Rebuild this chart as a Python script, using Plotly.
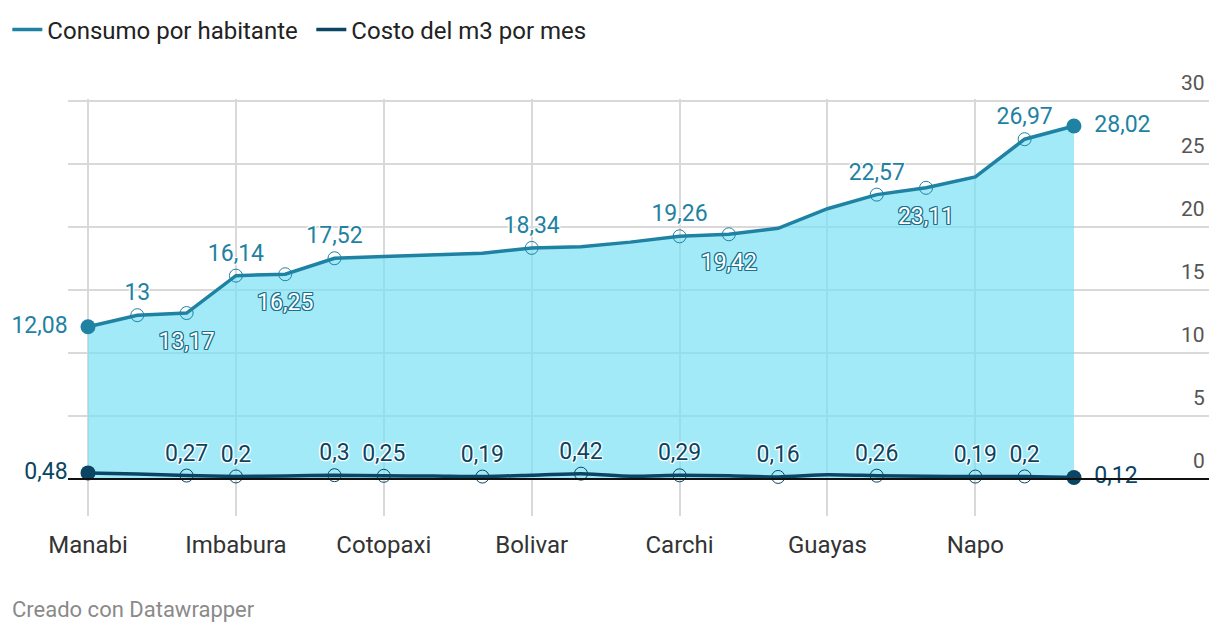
import plotly.graph_objects as go

# ---------------- data ----------------
provincias = ["Manabi", "Esmeraldas", "Los Ríos", "Imbabura", "Chimborazo", "Tungurahua",
              "Cotopaxi", "Cañar", "Loja", "Bolivar", "Azuay", "El Oro",
              "Carchi", "Santa Elena", "Morona Santiago", "Guayas", "Pichincha", "Pastaza",
              "Napo", "Orellana", "Galápagos"]
consumo = [12.08, 13, 13.17, 16.14, 16.25, 17.52, 17.66, 17.79, 17.92, 18.34, 18.44, 18.80,
           19.26, 19.42, 19.90, 21.45, 22.57, 23.11, 23.98, 26.97, 28.02]
costo = [0.48, 0.40, 0.27, 0.20, 0.24, 0.30, 0.25, 0.24, 0.19, 0.30, 0.42, 0.22,
         0.29, 0.25, 0.16, 0.33, 0.26, 0.22, 0.19, 0.20, 0.12]
y_ticks = [0, 5, 10, 15, 20, 25, 30]

# which points carry value labels (and where)
consumo_top = [1, 3, 5, 9, 12, 16, 19]
consumo_bottom = [2, 4, 13, 17]
costo_top = [2, 3, 5, 6, 8, 10, 12, 14, 16, 18, 19]
ends = [0, len(provincias) - 1]

# ---------------- style ----------------
BLUE = "#1f82a3"
NAVY = "#0b4563"
FILL = "rgba(118,224,243,0.68)"
GRID = "#d9d9d9"
FONT = "Roboto"
LBL = 23
CLEAR = "rgba(0,0,0,0)"


def fmt(v):
    return f"{v:g}".replace(".", ",")


def halo(c, r=1, blur=1):
    offs = [(-r, -r), (r, -r), (-r, r), (r, r), (0, r), (0, -r), (r, 0), (-r, 0)]
    return ", ".join(f"{a}px {b}px {blur}px {c}" for a, b in offs)


def sub(arr, idx):
    return [arr[i] for i in idx]


fig = go.Figure()

# area under consumption
fig.add_trace(go.Scatter(x=provincias, y=consumo, mode="lines", line=dict(width=0, color=BLUE),
                         fill="tozeroy", fillcolor=FILL, showlegend=False, hoverinfo="skip"))
# lines
fig.add_trace(go.Scatter(x=provincias, y=consumo, mode="lines", name="Consumo por habitante",
                         line=dict(color=BLUE, width=3.5)))
fig.add_trace(go.Scatter(x=provincias, y=costo, mode="lines", name="Costo del m3 por mes",
                         line=dict(color=NAVY, width=3.5, shape="spline", smoothing=0.6)))

open_marker = lambda c: dict(symbol="circle-open", size=13, color=c, line=dict(width=1, color=c))


def markers(idx, ys, mk):
    fig.add_trace(go.Scatter(x=sub(provincias, idx), y=sub(ys, idx), mode="markers", marker=mk,
                             showlegend=False, hoverinfo="skip", cliponaxis=False))


def labels(idx, ys, pos, pad, font):
    fig.add_trace(go.Scatter(x=sub(provincias, idx), y=sub(ys, idx), mode="markers+text",
                             text=[fmt(v) for v in sub(ys, idx)], textposition=pos,
                             marker=dict(size=pad, color=CLEAR, line=dict(width=0)),
                             textfont=font, showlegend=False, hoverinfo="skip", cliponaxis=False))


# markers
markers(consumo_top + consumo_bottom, consumo, open_marker(BLUE))
markers(costo_top, costo, open_marker(NAVY))
markers(ends, consumo, dict(symbol="circle", size=15, color=BLUE))
markers(ends, costo, dict(symbol="circle", size=15, color=NAVY))

# value labels
labels(consumo_top, consumo, "top center", 13,
       dict(family=FONT, size=LBL, color=BLUE, shadow=halo("white")))
labels(consumo_bottom, consumo, "bottom center", 28,
       dict(family=FONT, size=LBL, color="white", shadow=halo("#1b6f8c", 1, 0)))
labels(ends, consumo, ["middle left", "middle right"], 31,
       dict(family=FONT, size=LBL, color=BLUE))
labels(costo_top, costo, "top center", 13,
       dict(family=FONT, size=LBL, color=NAVY, shadow=halo("white")))
labels(ends, costo, ["middle left", "middle right"], 31,
       dict(family=FONT, size=LBL, color=NAVY))

# zero baseline
fig.add_shape(type="line", xref="paper", x0=0, x1=1, yref="y", y0=0, y1=0,
              line=dict(color="#111111", width=2), layer="above")

# right-side y tick labels above gridlines
for v in y_ticks:
    fig.add_annotation(x=1, xref="paper", xanchor="right", xshift=-2, y=v, yref="y",
                       yanchor="middle", yshift=18, text=str(v), showarrow=False,
                       font=dict(family=FONT, size=21, color="#555555"))

fig.add_annotation(x=-0.0508, xref="paper", xanchor="left", y=-0.2254, yref="paper",
                   yanchor="middle", text="Creado con Datawrapper", showarrow=False,
                   font=dict(family=FONT, size=22, color="#8a8a8a"))

fig.update_layout(
    width=1220, height=634,
    margin=dict(l=68, r=11, t=99, b=118),
    paper_bgcolor="white", plot_bgcolor="white",
    font=dict(family=FONT, size=22, color="#333333"),
    legend=dict(orientation="h", xref="container", yref="container", x=0.006, y=0.9527,
                xanchor="left", yanchor="middle", font=dict(size=24, color="#222222"),
                itemwidth=30, entrywidth=259, traceorder="normal"),
    xaxis=dict(type="category", range=[-0.406, 22.74], tick0=0, dtick=3,
               showgrid=True, gridcolor=GRID, gridwidth=2, zeroline=False, showline=False,
               ticks="outside", ticklen=7, tickcolor="rgba(0,0,0,0)",
               tickfont=dict(family=FONT, size=24, color="#333333")),
    yaxis=dict(range=[-2.94, 30.16], tickmode="array", tickvals=y_ticks, showticklabels=False,
               showgrid=True, gridcolor=GRID, gridwidth=2, zeroline=False, showline=False),
)

fig.write_html("out.html")
